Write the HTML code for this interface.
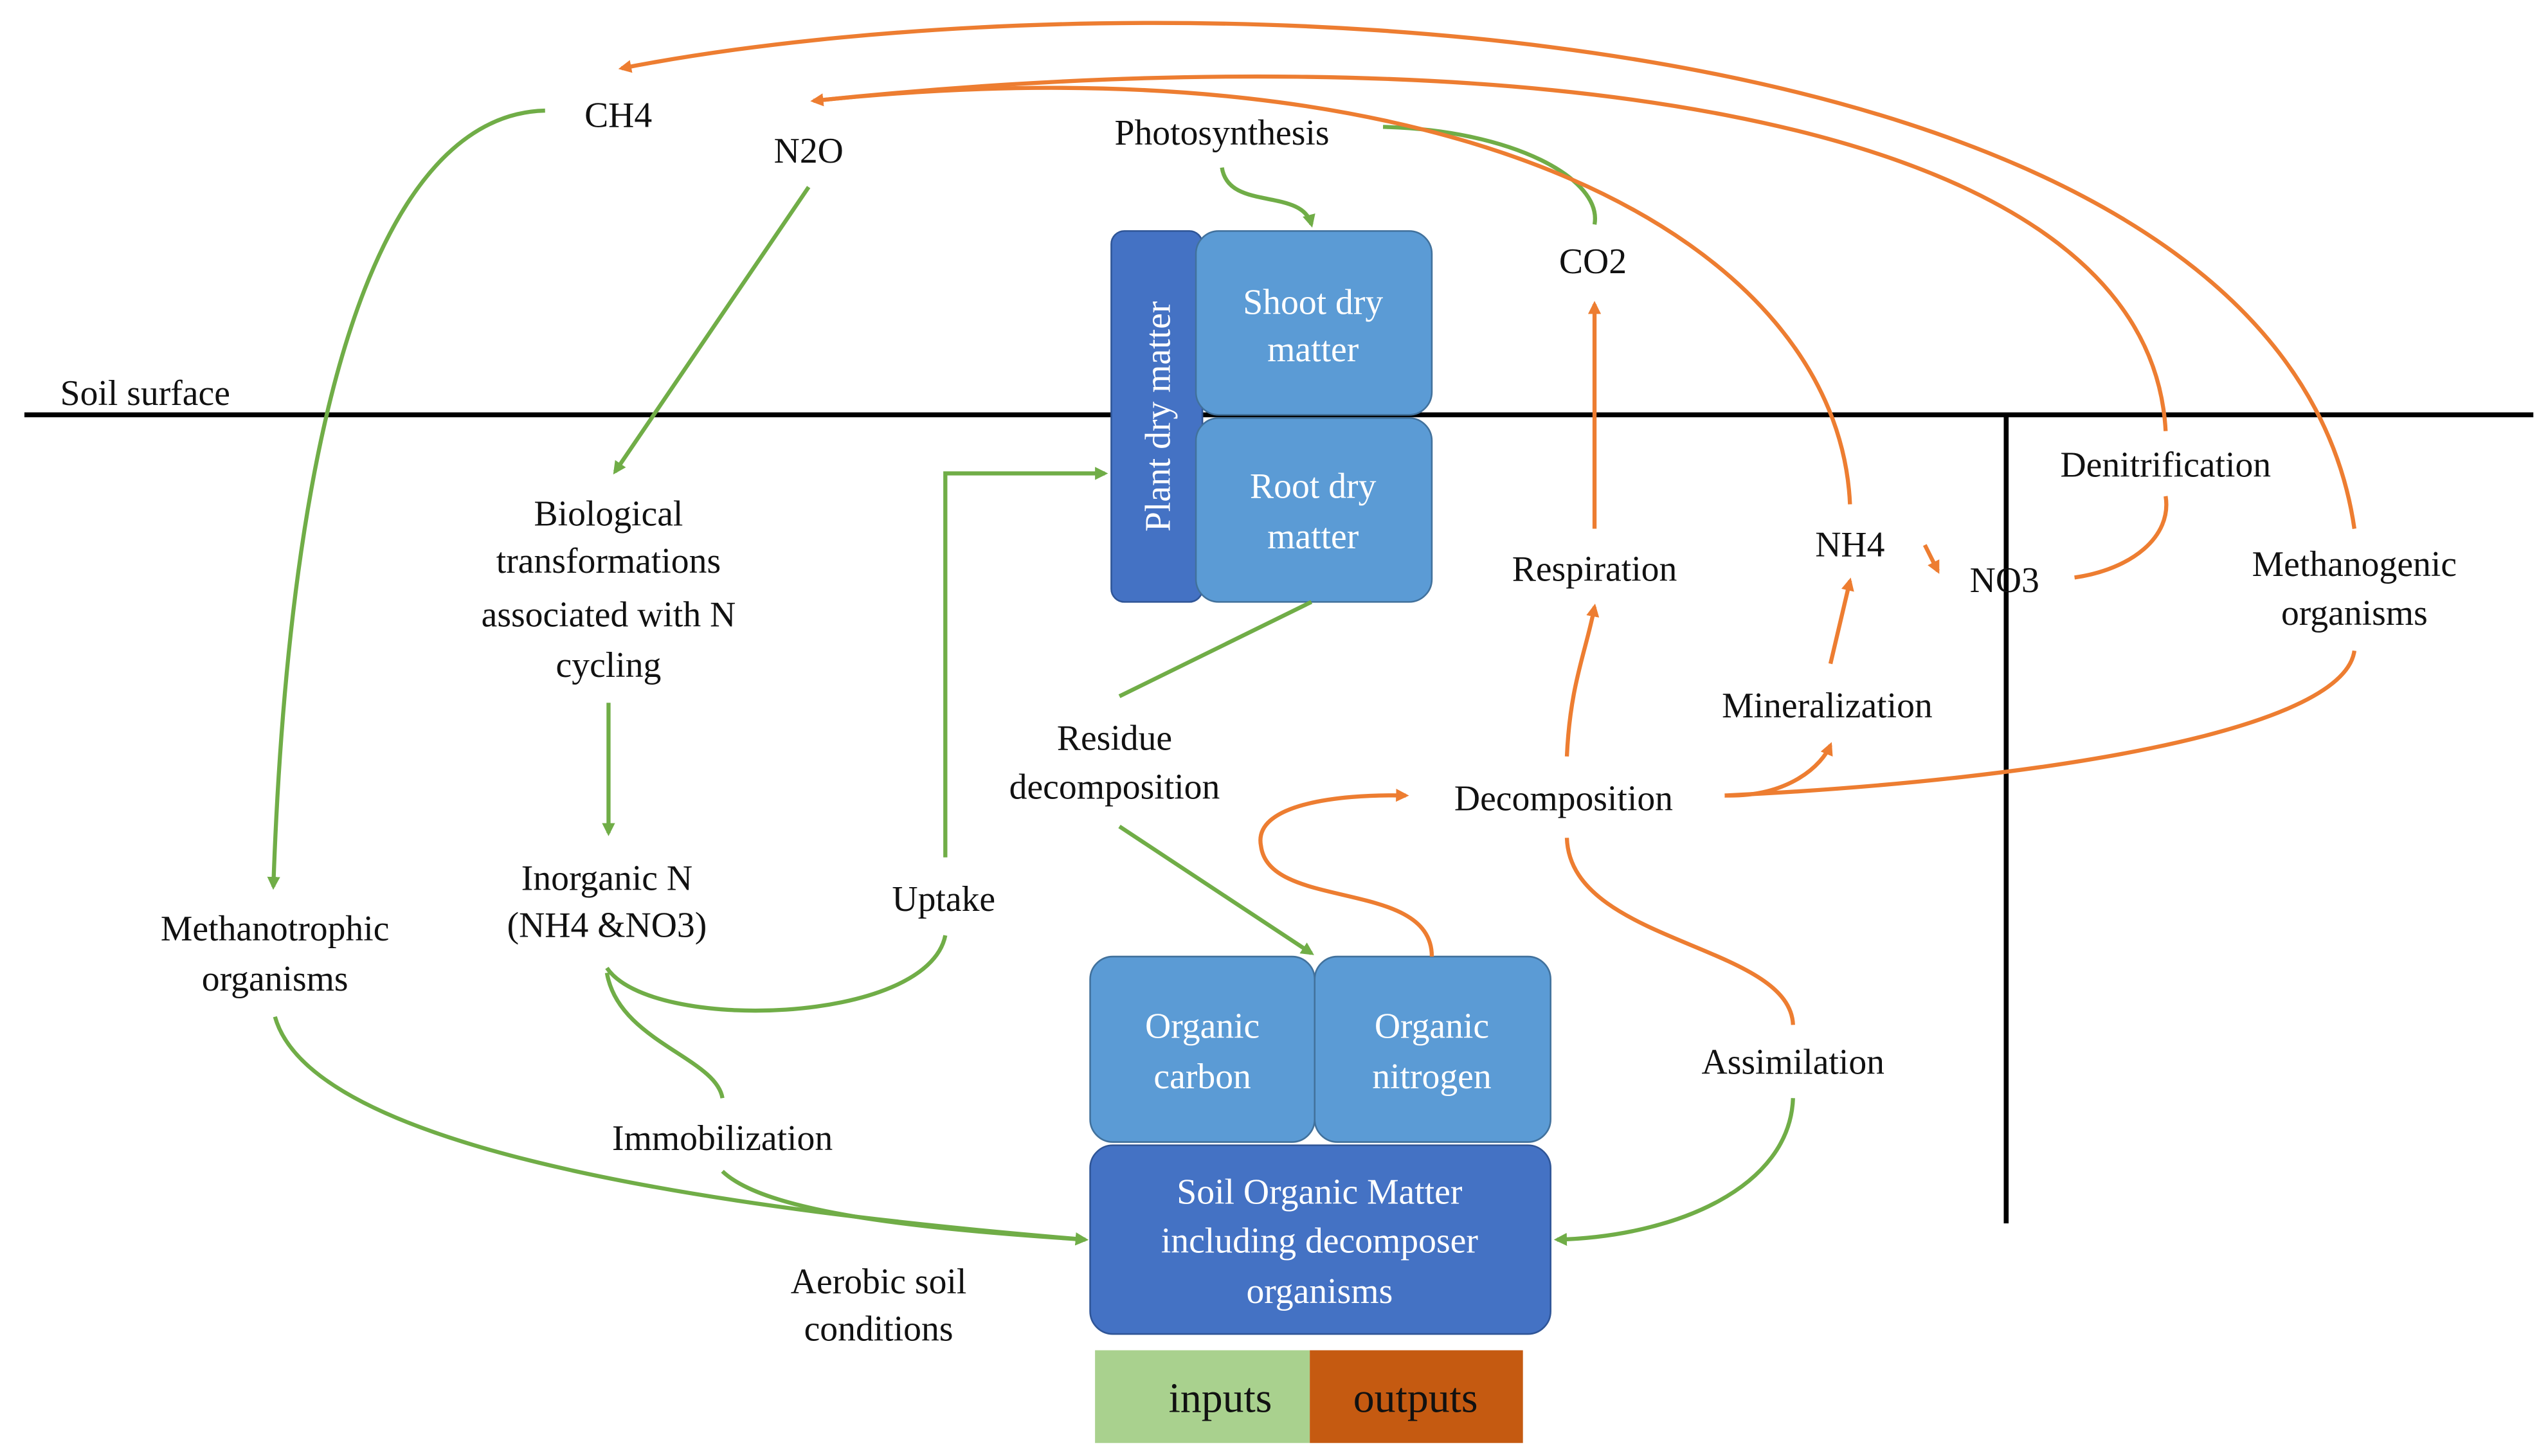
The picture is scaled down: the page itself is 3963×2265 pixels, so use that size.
<!DOCTYPE html>
<html><head><meta charset="utf-8"><style>
html,body{margin:0;padding:0;background:#fff;}
svg{display:block;}
text{font-family:"Liberation Serif","Times New Roman","DejaVu Serif",serif;font-size:22px;fill:#111;}
.w{fill:#fff;}
</style></head><body>
<svg width="3963" height="2265" viewBox="0 0 1566 895" preserveAspectRatio="none" xmlns="http://www.w3.org/2000/svg">
<defs>
<marker id="ag" markerWidth="8" markerHeight="8" refX="6" refY="4" orient="auto" markerUnits="userSpaceOnUse"><path d="M0,0 L8,4 L0,8 z" fill="#70ad47"/></marker>
<marker id="ao" markerWidth="8" markerHeight="8" refX="6" refY="4" orient="auto" markerUnits="userSpaceOnUse"><path d="M0,0 L8,4 L0,8 z" fill="#ed7d31"/></marker>
</defs>
<line x1="15" y1="255" x2="1557" y2="255" stroke="#000" stroke-width="3"/>
<line x1="1233" y1="255" x2="1233" y2="752" stroke="#000" stroke-width="3"/>
<text x="37" y="249">Soil surface</text>

<rect x="683" y="142" width="56" height="228" rx="8" fill="#4472c4" stroke="#2f5597"/>
<text class="w" transform="translate(719,256) rotate(-90)" text-anchor="middle">Plant dry matter</text>
<rect x="735" y="142" width="145" height="113" rx="14" fill="#5b9bd5" stroke="#41719c"/>
<text class="w" x="807" y="193" text-anchor="middle">Shoot dry</text>
<text class="w" x="807" y="222" text-anchor="middle">matter</text>
<rect x="735" y="257" width="145" height="113" rx="14" fill="#5b9bd5" stroke="#41719c"/>
<text class="w" x="807" y="306" text-anchor="middle">Root dry</text>
<text class="w" x="807" y="337" text-anchor="middle">matter</text>
<rect x="670" y="588" width="138" height="114" rx="14" fill="#5b9bd5" stroke="#41719c"/>
<text class="w" x="739" y="638" text-anchor="middle">Organic</text>
<text class="w" x="739" y="669" text-anchor="middle">carbon</text>
<rect x="808" y="588" width="145" height="114" rx="14" fill="#5b9bd5" stroke="#41719c"/>
<text class="w" x="880" y="638" text-anchor="middle">Organic</text>
<text class="w" x="880" y="669" text-anchor="middle">nitrogen</text>
<rect x="670" y="704" width="283" height="116" rx="14" fill="#4472c4" stroke="#2f5597"/>
<text class="w" x="811" y="740" text-anchor="middle">Soil Organic Matter</text>
<text class="w" x="811" y="770" text-anchor="middle">including decomposer</text>
<text class="w" x="811" y="801" text-anchor="middle">organisms</text>
<rect x="673" y="830" width="132" height="57" fill="#a9d18e"/>
<rect x="805" y="830" width="131" height="57" fill="#c55a11"/>
<text x="750" y="868" text-anchor="middle" style="font-size:26px">inputs</text>
<text x="870" y="868" text-anchor="middle" style="font-size:26px">outputs</text>

<text x="380" y="78" text-anchor="middle">CH4</text>
<text x="497" y="100" text-anchor="middle">N2O</text>
<text x="751" y="89" text-anchor="middle">Photosynthesis</text>
<text x="979" y="168" text-anchor="middle">CO2</text>
<text x="374" y="323" text-anchor="middle">Biological</text>
<text x="374" y="352" text-anchor="middle">transformations</text>
<text x="374" y="385" text-anchor="middle">associated with N</text>
<text x="374" y="416" text-anchor="middle">cycling</text>
<text x="373" y="547" text-anchor="middle">Inorganic N</text>
<text x="373" y="576" text-anchor="middle">(NH4 &amp;NO3)</text>
<text x="580" y="560" text-anchor="middle">Uptake</text>
<text x="685" y="461" text-anchor="middle">Residue</text>
<text x="685" y="491" text-anchor="middle">decomposition</text>
<text x="961" y="498" text-anchor="middle">Decomposition</text>
<text x="980" y="357" text-anchor="middle">Respiration</text>
<text x="1137" y="342" text-anchor="middle">NH4</text>
<text x="1232" y="364" text-anchor="middle">NO3</text>
<text x="1331" y="293" text-anchor="middle">Denitrification</text>
<text x="1447" y="354" text-anchor="middle">Methanogenic</text>
<text x="1447" y="384" text-anchor="middle">organisms</text>
<text x="1123" y="441" text-anchor="middle">Mineralization</text>
<text x="1102" y="660" text-anchor="middle">Assimilation</text>
<text x="169" y="578" text-anchor="middle">Methanotrophic</text>
<text x="169" y="609" text-anchor="middle">organisms</text>
<text x="444" y="707" text-anchor="middle">Immobilization</text>
<text x="540" y="795" text-anchor="middle">Aerobic soil</text>
<text x="540" y="824" text-anchor="middle">conditions</text>

<g fill="none" stroke="#70ad47" stroke-width="2.5">
<path d="M335,68 C250,70 180,200 168,545" marker-end="url(#ag)"/>
<path d="M497,115 L378,290" marker-end="url(#ag)"/>
<path d="M751,103 C755,130 800,115 806,138" marker-end="url(#ag)"/>
<path d="M850,78 C930,80 985,110 980,138"/>
<path d="M374,432 L374,512" marker-end="url(#ag)"/>
<path d="M581,527 L581,291 L679,291" marker-end="url(#ag)"/>
<path d="M373,595 C400,635 570,630 581,575"/>
<path d="M806,370 L688,428"/>
<path d="M688,508 L806,586" marker-end="url(#ag)"/>
<path d="M373,598 C380,640 440,650 444,675"/>
<path d="M444,720 C470,745 560,755 667,762" marker-end="url(#ag)"/>
<path d="M169,625 C190,700 400,740 667,762" marker-end="url(#ag)"/>
<path d="M1102,675 C1100,730 1030,760 957,762" marker-end="url(#ag)"/>
</g>
<g fill="none" stroke="#ed7d31" stroke-width="2.5">
<path d="M1331,265 C1320,60 900,20 500,62" marker-end="url(#ao)"/>
<path d="M1447,325 C1400,0 700,-20 382,42" marker-end="url(#ao)"/>
<path d="M1137,310 C1130,150 900,20 500,62"/>
<path d="M980,325 L980,187" marker-end="url(#ao)"/>
<path d="M963,465 C965,420 975,400 980,373" marker-end="url(#ao)"/>
<path d="M1060,489 C1100,490 1120,470 1125,458" marker-end="url(#ao)"/>
<path d="M1125,408 L1137,357" marker-end="url(#ao)"/>
<path d="M1183,335 L1191,351" marker-end="url(#ao)"/>
<path d="M1275,355 C1310,350 1335,330 1331,305"/>
<path d="M1060,489 C1250,480 1440,450 1447,400"/>
<path d="M880,588 C880,540 780,560 775,520 C770,495 820,488 864,489" marker-end="url(#ao)"/>
<path d="M963,515 C965,580 1100,580 1102,630"/>
</g>
</svg>
</body></html>
